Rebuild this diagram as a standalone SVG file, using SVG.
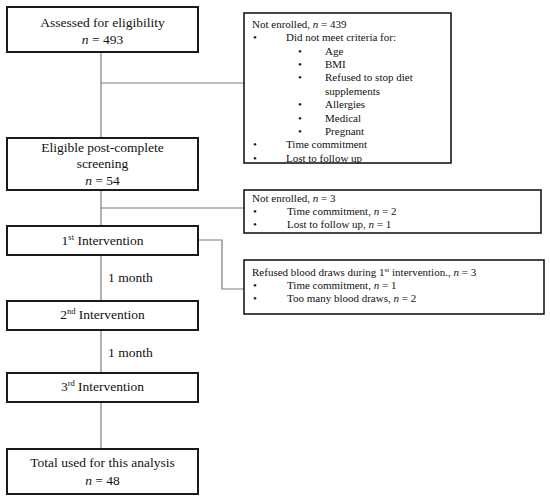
<svg xmlns="http://www.w3.org/2000/svg" width="550" height="499" viewBox="0 0 550 499" font-family="'Liberation Serif', 'DejaVu Serif', serif">
<style>
.box{fill:#fff;stroke:#1a1a1a;stroke-width:2}
.sbox{fill:#fff;stroke:#1a1a1a;stroke-width:1.6}
.conn{fill:none;stroke:#7f7f7f;stroke-width:1.2}
text{font-family:'Liberation Serif','DejaVu Serif',serif;fill:#111}
.big{font-size:13.5px;text-anchor:middle}
.lbl{font-size:13.5px}
.sm{font-size:11px}
.it{font-style:italic}
</style>
<rect width="550" height="499" fill="#fff"/>
<g id="connectors">
<path class="conn" d="M101 52V137M101 83H244M101 190V225M101 208H244M101 255V301M199 240H222V289H244M101 330V372M101 402V448"/>
</g>
<g id="n-assessed">
<rect class="box" x="7" y="7" width="191" height="45"/>
<text class="big" x="102.5" y="27">Assessed for eligibility</text>
<text class="big" x="102.5" y="44"><tspan class="it">n</tspan> = 493</text>
</g>
<g id="n-notenrolled1">
<rect class="sbox" x="244" y="13" width="207" height="150"/>
<text class="sm" x="252" y="28">Not enrolled,  <tspan class="it">n</tspan> = 439</text>
<text class="sm" x="253" y="41">•</text><text class="sm" x="286" y="41">Did not meet  criteria  for:</text>
<text class="sm" x="298" y="55">•</text><text class="sm" x="325" y="55">Age</text>
<text class="sm" x="298" y="68">•</text><text class="sm" x="325" y="68">BMI</text>
<text class="sm" x="298" y="81">•</text><text class="sm" x="325" y="81">Refused to stop diet</text>
<text class="sm" x="325" y="95">supplements</text>
<text class="sm" x="298" y="108">•</text><text class="sm" x="325" y="108">Allergies</text>
<text class="sm" x="298" y="122">•</text><text class="sm" x="325" y="122">Medical</text>
<text class="sm" x="298" y="135">•</text><text class="sm" x="325" y="135">Pregnant</text>
<text class="sm" x="253" y="148">•</text><text class="sm" x="286" y="148">Time commitment</text>
<text class="sm" x="253" y="162">•</text><text class="sm" x="286" y="162">Lost to follow  up</text>
</g>
<g id="n-eligible">
<rect class="box" x="7" y="138" width="191" height="52"/>
<text class="big" x="102.5" y="152">Eligible post-complete</text>
<text class="big" x="102.5" y="168">screening</text>
<text class="big" x="102.5" y="185"><tspan class="it">n</tspan> = 54</text>
</g>
<g id="n-notenrolled2">
<rect class="sbox" x="244" y="190" width="297" height="43"/>
<text class="sm" x="252" y="202">Not enrolled,  <tspan class="it">n</tspan> = 3</text>
<text class="sm" x="253" y="215">•</text><text class="sm" x="287" y="215">Time commitment,  <tspan class="it">n</tspan> = 2</text>
<text class="sm" x="253" y="228">•</text><text class="sm" x="287" y="228">Lost to follow  up, <tspan class="it">n</tspan> = 1</text>
</g>
<g id="n-int1">
<rect class="box" x="7" y="226" width="191" height="29"/>
<text class="big" x="102.5" y="245">1<tspan font-size="8.5" dy="-5">st</tspan><tspan dy="5"> Intervention</tspan></text>
</g>
<g id="n-refused">
<rect class="sbox" x="244" y="260" width="300" height="54"/>
<text class="sm" x="252" y="276">Refused blood draws during  1<tspan font-size="7" dy="-4">st</tspan><tspan dy="4"> intervention.,  </tspan><tspan class="it">n</tspan> = 3</text>
<text class="sm" x="253" y="289">•</text><text class="sm" x="287" y="289">Time commitment,  <tspan class="it">n</tspan> = 1</text>
<text class="sm" x="253" y="302">•</text><text class="sm" x="287" y="302">Too many blood draws, <tspan class="it">n</tspan> = 2</text>
</g>
<g id="l-month1"><text class="lbl" x="108" y="282">1 month</text></g>
<g id="n-int2">
<rect class="box" x="7" y="301" width="191" height="29"/>
<text class="big" x="102.5" y="319">2<tspan font-size="8.5" dy="-5">nd</tspan><tspan dy="5"> Intervention</tspan></text>
</g>
<g id="l-month2"><text class="lbl" x="108" y="357">1 month</text></g>
<g id="n-int3">
<rect class="box" x="7" y="373" width="191" height="29"/>
<text class="big" x="102.5" y="391">3<tspan font-size="8.5" dy="-5">rd</tspan><tspan dy="5"> Intervention</tspan></text>
</g>
<g id="n-total">
<rect class="box" x="7" y="449" width="191" height="45"/>
<text class="big" x="102.5" y="467">Total used for this analysis</text>
<text class="big" x="102.5" y="485"><tspan class="it">n</tspan> = 48</text>
</g>
</svg>
